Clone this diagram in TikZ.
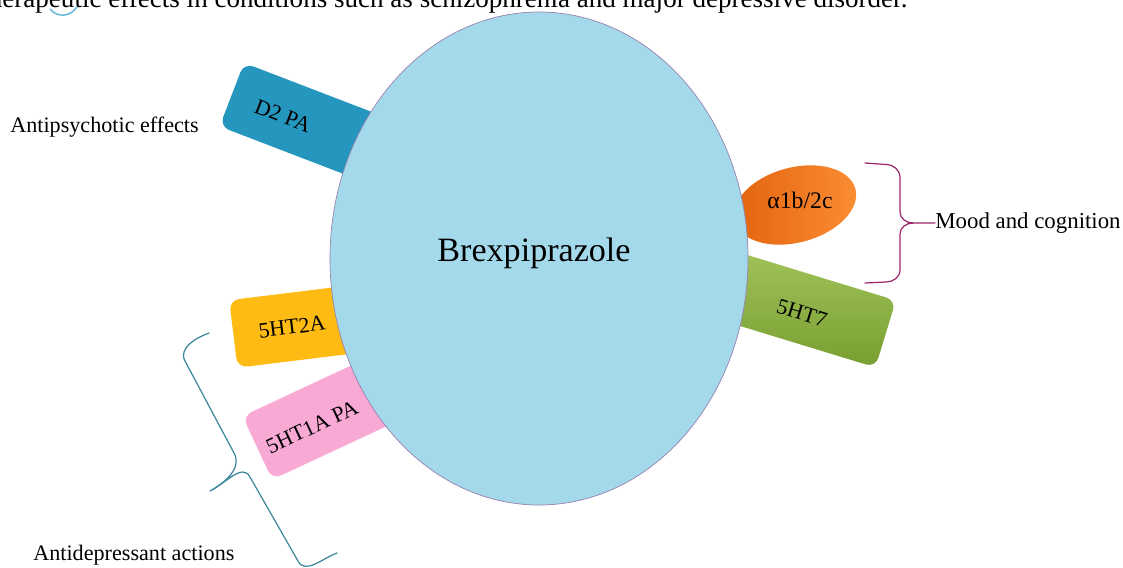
\documentclass[tikz,border=0pt]{standalone}
\usepackage{fontspec}
\setmainfont{Liberation Serif}
\usepackage{tikz}
\usetikzlibrary{shapes.geometric}
\definecolor{drugblue}{RGB}{164,217,235}
\definecolor{drugedge}{RGB}{150,130,175}
\definecolor{dtwo}{RGB}{37,150,190}
\definecolor{htwoa}{RGB}{253,187,19}
\definecolor{honea}{RGB}{249,170,212}
\definecolor{alphadark}{RGB}{228,98,14}
\definecolor{alphalight}{RGB}{250,142,52}
\definecolor{sevendark}{RGB}{120,158,48}
\definecolor{sevenlight}{RGB}{160,195,90}
\definecolor{moodbrace}{RGB}{155,40,105}
\definecolor{adbrace}{RGB}{60,135,155}
\definecolor{logoblue}{RGB}{90,180,215}

\tikzset{
  recbox/.style={rectangle, rounded corners=0.2cm, minimum height=1.36cm, inner sep=0pt},
  reclabel/.style={font=\fontsize{12.5}{15}\selectfont, inner sep=0pt},
  effect/.style={font=\fontsize{12.6}{15}\selectfont, inner sep=0pt, anchor=west},
  bracket/.style={line width=0.7pt, line cap=round},
}

\begin{document}
\begin{tikzpicture}
\useasboundingbox (0,0) rectangle (22.46,-11.34);
\begin{scope}
\clip (0,0) rectangle (22.46,-11.34);
\node[anchor=base west, inner sep=0pt, font=\fontsize{15.4}{18}\selectfont] (intro) at (-0.38,-0.14) {therapeutic effects in conditions such as schizophrenia and major depressive disorder.};
\end{scope}
\draw[logoblue, line width=0.8pt] (1.0,-0.18) .. controls (1.15,-0.36) and (1.40,-0.34) .. (1.54,-0.14);

\node[recbox, fill=dtwo, rotate=-21, anchor=west, minimum width=3.4cm] (d2box) at (4.63,-1.89) {};
\node[recbox, fill=htwoa, rotate=7, anchor=west, minimum width=3cm] (ht2abox) at (4.66,-6.68) {};
\node[recbox, fill=honea, rotate=25, anchor=west, minimum width=3.4cm, minimum height=1.4cm] (ht1abox) at (5.14,-8.96) {};
\node[recbox, top color=sevenlight, bottom color=sevendark, rotate=-17, anchor=east, minimum width=3.4cm, minimum height=1.4cm] (ht7box) at (17.72,-6.68) {};
\node[ellipse, inner sep=0pt, left color=alphadark, right color=alphalight, rotate=15, minimum width=2.5cm, minimum height=1.5cm] (alphabox) at (15.9,-4.1) {};

\node[ellipse, fill=drugblue, draw=drugedge, line width=0.4pt, minimum width=8.36cm, minimum height=9.86cm, inner sep=0pt] (brex) at (10.78,-5.17) {};
\node[font=\fontsize{19.4}{22}\selectfont, inner sep=0pt] (brexlabel) at (10.68,-5.06) {Brexpiprazole};

\node[reclabel, rotate=-21] (d2) at (5.66,-2.32) {D2 PA};
\node[reclabel, rotate=7] (ht2a) at (5.84,-6.54) {5HT2A};
\node[reclabel, rotate=25] (ht1a) at (6.24,-8.54) {5HT1A PA};
\node[reclabel, rotate=-17] (ht7) at (16.04,-6.26) {5HT7};
\node[reclabel, font=\fontsize{13.5}{15}\selectfont] (alpha) at (16.0,-4.0) {α1b/2c};

\node[effect] (psych) at (0.20,-2.54) {Antipsychotic effects};
\node[effect, font=\fontsize{13}{15}\selectfont] (mood) at (18.70,-4.46) {Mood and cognition};
\node[effect] (adep) at (0.66,-11.10) {Antidepressant actions};

\coordinate (mtop) at (17.30,-3.26);
\coordinate (mbot) at (17.30,-5.66);
\coordinate (mtip) at (18.26,-4.46);
\draw[bracket, moodbrace] (mtop) -- (17.72,-3.29) to[out=0,in=90] (18.0,-3.55) -- (18.0,-4.24) to[out=-90,in=180] (mtip) -- (mood.west);
\draw[bracket, moodbrace] (mtip) to[out=180,in=90] (18.0,-4.68) -- (18.0,-5.40) to[out=-90,in=0] (17.72,-5.64) -- (mbot);

\coordinate (atop) at (4.18,-6.66);
\coordinate (abot) at (6.74,-11.06);
\coordinate (atip) at (4.20,-9.82);
\draw[bracket, adbrace] (atop) to[out=200,in=118] (3.70,-7.22) -- (4.68,-9.06) to[out=-62,in=30] (atip) to[out=25,in=118] (5.00,-9.54) -- (5.96,-11.22) to[out=-62,in=200] (abot);
\end{tikzpicture}
\end{document}
